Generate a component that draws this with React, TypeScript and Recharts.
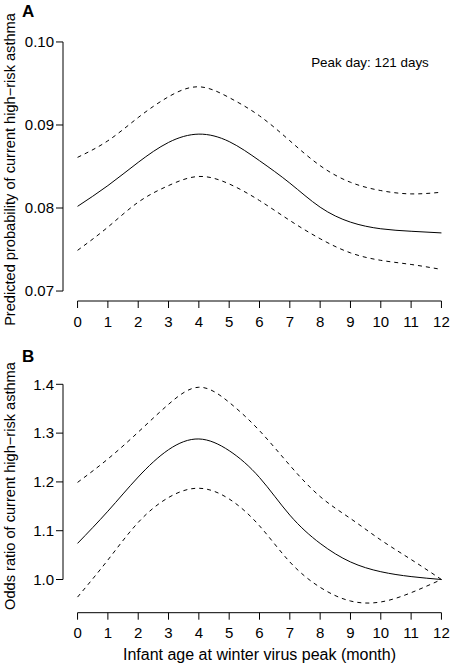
import { Line, LineChart, ReferenceLine, XAxis, YAxis } from 'recharts';

const FONT = '"Liberation Sans", Arial, Helvetica, sans-serif';

// infant age at winter virus peak (months)
const months = [0, 1, 2, 3, 4, 5, 6, 7, 8, 9, 10, 11, 12];

// panel A: predicted probability of current high-risk asthma
const probFit = [0.0802, 0.0827, 0.0855, 0.0879, 0.0889, 0.088, 0.0857, 0.083, 0.0801, 0.0783, 0.0775, 0.0772, 0.077];
const probUpper = [0.0861, 0.0881, 0.0909, 0.0934, 0.0946, 0.0933, 0.0911, 0.0881, 0.0851, 0.0831, 0.0821, 0.0817, 0.0819];
const probLower = [0.0749, 0.0777, 0.0807, 0.0827, 0.0838, 0.0829, 0.0809, 0.0785, 0.0763, 0.0746, 0.0737, 0.0732, 0.0726];

// panel B: odds ratio of current high-risk asthma
const orFit = [1.074, 1.14, 1.21, 1.266, 1.288, 1.264, 1.209, 1.132, 1.074, 1.036, 1.016, 1.006, 1.0];
const orUpper = [1.199, 1.247, 1.302, 1.359, 1.394, 1.363, 1.305, 1.234, 1.17, 1.125, 1.081, 1.041, 1.0];
const orLower = [0.964, 1.04, 1.117, 1.168, 1.187, 1.165, 1.11, 1.036, 0.984, 0.956, 0.954, 0.973, 1.0];

const monthTicks = months;
const probTicks = [0.07, 0.08, 0.09, 0.1];
const orTicks = [1.0, 1.1, 1.2, 1.3, 1.4];

const probData = months.map((m, i) => ({ month: m, fit: probFit[i], upper: probUpper[i], lower: probLower[i] }));
const orData = months.map((m, i) => ({ month: m, fit: orFit[i], upper: orUpper[i], lower: orLower[i] }));

const tickStyle = { fontSize: 15, fill: '#000', fontFamily: FONT };

// R-style y title: rotated, centred on a given height
function yTitle(text: string, cy: number) {
  return () => (
    <text x={10} y={cy} transform={`rotate(-90 10 ${cy})`} textAnchor="middle" dominantBaseline="central" fontSize={14.6} fontFamily={FONT} fill="#000">
      {text}
    </text>
  );
}

function xTitle(props: any) {
  const vb = props.viewBox || {};
  return (
    <text x={vb.x + vb.width / 2} y={vb.y + vb.height - 6} textAnchor="middle" fontSize={16} fontFamily={FONT} fill="#000">
      Infant age at winter virus peak (month)
    </text>
  );
}

export default function App() {
  const xDomain: [number, number] = [-0.48, 12.48];
  const probDomain: [number, number] = [0.0688, 0.1012];
  const orDomain: [number, number] = [0.932, 1.416];

  const series = (
    [
      { key: 'upper', dash: '4 4' },
      { key: 'fit', dash: undefined },
      { key: 'lower', dash: '4 4' },
    ] as const
  ).map((s) => (
    <Line key={s.key} type="natural" dataKey={s.key} stroke="#000" strokeWidth={1} strokeDasharray={s.dash} dot={false} activeDot={false} isAnimationActive={false} />
  ));

  return (
    <div style={{ position: 'absolute', left: 0, top: 0, width: 450, height: 666, overflow: 'hidden', background: '#fff' }}>
      <div style={{ position: 'absolute', left: 0, top: 0 }}>
        <LineChart width={456} height={333} data={probData} margin={{ top: 32, right: 0, bottom: 0, left: 0 }}>
          <XAxis type="number" dataKey="month" domain={xDomain} ticks={monthTicks} interval={0} allowDataOverflow axisLine={false} tickLine={{ stroke: '#000' }} tickSize={7} tickMargin={8} tick={tickStyle} height={32} />
          <YAxis type="number" domain={probDomain} ticks={probTicks} interval={0} allowDataOverflow axisLine={false} tickLine={{ stroke: '#000' }} tickSize={7} tickMargin={2} tick={tickStyle} tickFormatter={(v: number) => v.toFixed(2)} width={63} label={{ content: yTitle('Predicted probability of current high−risk asthma', 169.5) }} />
          <ReferenceLine segment={[{ x: xDomain[0], y: probTicks[0] }, { x: xDomain[0], y: probTicks[probTicks.length - 1] }]} stroke="#000" ifOverflow="visible" />
          <ReferenceLine segment={[{ x: monthTicks[0], y: probDomain[0] }, { x: monthTicks[monthTicks.length - 1], y: probDomain[0] }]} stroke="#000" ifOverflow="visible" />
          {series}
        </LineChart>
      </div>
      <div style={{ position: 'absolute', left: 0, top: 333 }}>
        <LineChart width={456} height={333} data={orData} margin={{ top: 43.5, right: 0, bottom: 0, left: 0 }}>
          <XAxis type="number" dataKey="month" domain={xDomain} ticks={monthTicks} interval={0} allowDataOverflow axisLine={false} tickLine={{ stroke: '#000' }} tickSize={7} tickMargin={8} tick={tickStyle} height={53.3} label={{ content: xTitle }} />
          <YAxis type="number" domain={orDomain} ticks={orTicks} interval={0} allowDataOverflow axisLine={false} tickLine={{ stroke: '#000' }} tickSize={7} tickMargin={2} tick={tickStyle} tickFormatter={(v: number) => v.toFixed(1)} width={63} label={{ content: yTitle('Odds ratio of current high−risk asthma', 153) }} />
          <ReferenceLine segment={[{ x: xDomain[0], y: orTicks[0] }, { x: xDomain[0], y: orTicks[orTicks.length - 1] }]} stroke="#000" ifOverflow="visible" />
          <ReferenceLine segment={[{ x: monthTicks[0], y: orDomain[0] }, { x: monthTicks[monthTicks.length - 1], y: orDomain[0] }]} stroke="#000" ifOverflow="visible" />
          {series}
        </LineChart>
      </div>
      <svg width={450} height={666} style={{ position: 'absolute', left: 0, top: 0, pointerEvents: 'none' }}>
        <text x={22} y={17} fontSize={17} fontWeight="bold" fontFamily={FONT} fill="#000">A</text>
        <text x={22} y={362} fontSize={17} fontWeight="bold" fontFamily={FONT} fill="#000">B</text>
        <text x={370} y={66.5} textAnchor="middle" fontSize={13.4} fontFamily={FONT} fill="#000">Peak day: 121 days</text>
      </svg>
    </div>
  );
}
